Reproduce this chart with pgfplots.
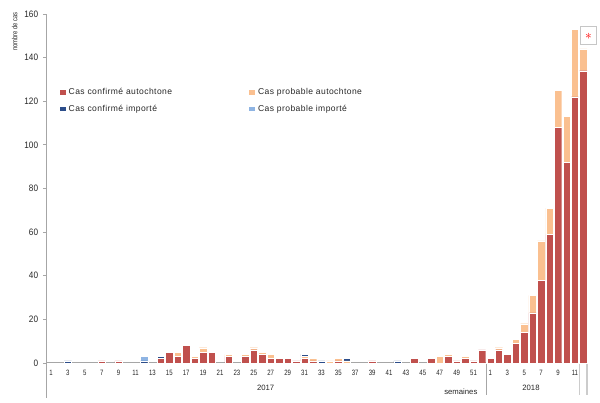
\documentclass[border=0pt]{standalone}
\usepackage{pgfplots}
\pgfplotsset{compat=1.18}
\usepackage{pgfplotstable}
\usepackage{fontspec}
\setmainfont{Liberation Sans}
\newfontfamily\narrowfont[FakeStretch=0.88]{Liberation Sans}
\newfontfamily\tightfont[FakeStretch=0.78]{Liberation Sans}
\newfontfamily\legfont[LetterSpace=5]{Liberation Sans}

\definecolor{confauto}{HTML}{C0504D}
\definecolor{probauto}{HTML}{FAC090}
\definecolor{confimp}{HTML}{2C4D8A}
\definecolor{probimp}{HTML}{8EB4E3}
\definecolor{axisgray}{HTML}{A6A6A6}

% semaines 2017 (1-52) puis 2018 (53-64)
\pgfplotstableread{
x  ca  pa  ci  pi
1  0   0   0   0
2  0   0   0   0
3  0   0   1   0
4  0   0   0   0
5  0   0   0   0
6  0   0   0   0
7  1   0   0   0
8  0   0   0   0
9  1   0   0   0
10 0   0   0   0
11 0   0   0   0
12 0   0   1   2
13 0   0   0   0
14 2   0   1   0
15 5   0   0   0
16 3   2   0   0
17 8   0   0   0
18 2   1   0   0
19 5   2   0   0
20 5   0   0   0
21 0   0   0   0
22 3   1   0   0
23 0   0   0   0
24 3   1   0   0
25 6   1   0   0
26 4   1   0   0
27 2   2   0   0
28 2   0   0   0
29 2   0   0   0
30 1   0   0   0
31 2   1   1   0
32 1   1   0   0
33 0   0   1   0
34 0   1   0   0
35 1   1   0   0
36 0   1   1   0
37 0   0   0   0
38 0   0   0   0
39 1   0   0   0
40 0   0   0   0
41 0   0   0   0
42 0   0   1   0
43 0   0   0   0
44 2   0   0   0
45 0   0   0   0
46 2   0   0   0
47 0   3   0   0
48 3   1   0   0
49 1   0   0   0
50 2   1   0   0
51 1   0   0   0
52 6   0   0   0
53 2   0   0   0
54 6   1   0   0
55 4   0   0   0
56 9   2   0   0
57 14  4   0   0
58 23  8   0   0
59 38  18  0   0
60 59  12  0   0
61 108 17  0   0
62 92  21  0   0
63 122 31  0   0
64 134 10  0   0
}\cases

\begin{document}
\begin{tikzpicture}
\useasboundingbox (-35.1pt,-30pt) rectangle (414.9pt,272.25pt);
\begin{axis}[
    at={(0,0)}, anchor=south west,
    scale only axis, width=405.6pt, height=261.75pt,
    ybar stacked, bar width=0.88,
    xmin=0.5, xmax=64.5, ymin=0, ymax=160,
    enlargelimits=false, clip=false,
    axis x line*=bottom, axis y line*=left,
    axis line style={axisgray, line width=0.75pt, -},
    xtick={1,3,...,63},
    xticklabels={1,3,5,7,9,11,13,15,17,19,21,23,25,27,29,31,33,35,37,39,41,43,45,47,49,51,1,3,5,7,9,11},
    xtick style={draw=none},
    x tick label style={font=\tightfont\fontsize{5.8}{6}\selectfont, text=black!85, yshift=1pt},
    ytick={0,20,...,160},
    ytick style={axisgray, line width=0.6pt},
    tick align=outside, major tick length=3pt,
    /pgf/number format/assume math mode=true,
    y tick label style={font=\narrowfont\fontsize{7}{8}\selectfont, text=black!85},
    every axis plot/.append style={draw=white, line width=0.25pt},
    legend columns=2, legend cell align=left,
    legend style={draw=none, fill=none, at={(0.024,0.795)}, anchor=north west,
        font=\legfont\fontsize{6.4}{7}\selectfont, text=black!85,
        /tikz/every even column/.append style={column sep=56pt},
        row sep=2.2pt, inner sep=0pt},
    legend image code/.code={\fill[#1, draw=none] (0pt,-1.5pt) rectangle (4.5pt,1.9pt);},
]
\addplot[fill=confauto] table[x=x,y=ca] {\cases};
\addlegendentry{Cas confirmé autochtone}
\addplot[fill=probauto] table[x=x,y=pa] {\cases};
\addlegendentry{Cas probable autochtone}
\addplot[fill=confimp] table[x=x,y=ci] {\cases};
\addlegendentry{Cas confirmé importé}
\addplot[fill=probimp] table[x=x,y=pi] {\cases};
\addlegendentry{Cas probable importé}

\draw[axisgray, line width=0.75pt] (axis cs:0.5,0) -- (axis cs:0.5,-16);
\draw[axisgray, line width=0.75pt] (axis cs:52.5,0) -- (axis cs:52.5,-14.5);
\draw[gray!40, line width=1.3pt] (axis cs:63.55,0) -- (axis cs:63.55,-14.5);
\draw[gray!40, line width=1.3pt] (axis cs:64.45,0) -- (axis cs:64.45,-14.5);

\node[font=\fontsize{5.8}{6}\selectfont, text=black!85] at (axis cs:26.4,-11.6) {2017};
\node[font=\fontsize{5.8}{6}\selectfont, text=black!85] at (axis cs:57.8,-11.6) {2018};
\node[font=\fontsize{5.8}{6}\selectfont, text=black!85] at (axis cs:49.5,-13.0) {semaines};
\node[rotate=90, font=\tightfont\fontsize{5.6}{6}\selectfont, text=black!85] at (axis cs:-3.3,152) {nombre de cas};

\coordinate (boxsw) at (axis cs:63.6,145.9);
\coordinate (boxne) at (axis cs:65.6,154.1);
\coordinate (star) at (axis cs:64.6,149.6);
\end{axis}
\draw[gray!45, fill=white, line width=0.6pt] (boxsw) rectangle (boxne);
\node[text=red, inner sep=0pt, font=\fontsize{10}{10}\selectfont] at (star) {$\ast$};
\end{tikzpicture}
\end{document}
